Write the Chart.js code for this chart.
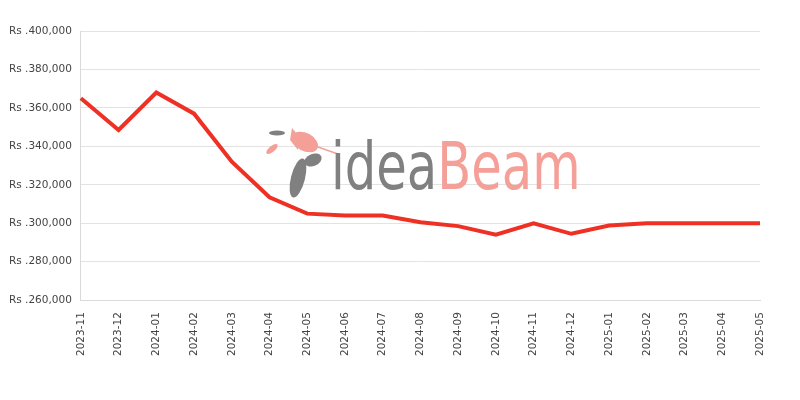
<!DOCTYPE html>
<html>
<head>
<meta charset="utf-8">
<script src="https://cdn.jsdelivr.net/npm/chart.js@4/dist/chart.umd.min.js"></script>
<style>
  html, body { margin: 0; padding: 0; background: #fff; }
  #wrap { width: 800px; height: 400px; position: relative; }
</style>
</head>
<body>
<div id="wrap"><canvas id="lineChart"></canvas></div>
<script>
const months = [
  "2023-11", "2023-12", "2024-01", "2024-02", "2024-03", "2024-04", "2024-05",
  "2024-06", "2024-07", "2024-08", "2024-09", "2024-10", "2024-11", "2024-12",
  "2025-01", "2025-02", "2025-03", "2025-04", "2025-05",
];
const prices = [
  365000, 348500, 368000, 357000, 332000, 313500, 305000,
  304000, 304000, 300500, 298500, 294000, 300000, 294500,
  298800, 300000, 300000, 300000, 300000,
];
const yMin = 260000;
const yMax = 400000;
const yStep = 20000;

// faint logo behind the line
const watermark = {
  id: "watermark",
  beforeDatasetsDraw(chart) {
    const ctx = chart.ctx;
    ctx.save();
    // bird + feather, rough
    ctx.fillStyle = "#f4a099";
    ctx.beginPath();
    ctx.ellipse(305, 142, 14, 9, 0.5, 0, Math.PI * 2);
    ctx.fill();
    ctx.beginPath();
    ctx.moveTo(292, 128);
    ctx.quadraticCurveTo(300, 135, 298, 150);
    ctx.lineTo(290, 140);
    ctx.fill();
    ctx.beginPath();
    ctx.moveTo(315, 146);
    ctx.lineTo(338, 154);
    ctx.lineWidth = 1.5;
    ctx.strokeStyle = "#f4a099";
    ctx.stroke();
    ctx.beginPath();
    ctx.ellipse(272, 149, 7, 3, -0.7, 0, Math.PI * 2);
    ctx.fill();
    ctx.fillStyle = "#808080";
    ctx.beginPath();
    ctx.ellipse(277, 133, 8, 2.5, 0, 0, Math.PI * 2);
    ctx.fill();
    ctx.beginPath();
    ctx.ellipse(298, 178, 7, 20, 0.25, 0, Math.PI * 2);
    ctx.fill();
    ctx.beginPath();
    ctx.ellipse(313, 160, 9, 6, -0.4, 0, Math.PI * 2);
    ctx.fill();
    // text
    ctx.font = "68px 'DejaVu Sans'";
    ctx.textBaseline = "alphabetic";
    ctx.translate(331, 189);
    ctx.scale(0.73, 0.97);
    ctx.fillStyle = "#808080";
    ctx.fillText("idea", 0, 0);
    const w = ctx.measureText("idea").width;
    ctx.fillStyle = "#f4a099";
    ctx.fillText("Beam", w, 0);
    ctx.restore();
  },
};

var ctx = document.getElementById("lineChart").getContext("2d");

var lineChart = new Chart(ctx, {
  type: "line",
  data: {
    labels: months,
    datasets: [
      {
        label: "Price",
        data: prices,
        borderColor: "#ee3124",
        backgroundColor: "#ee3124",
        borderWidth: 4,
        pointRadius: 0,
        tension: 0,
        fill: false,
      },
    ],
  },
  options: {
    responsive: true,
    maintainAspectRatio: false,
    animation: false,
    layout: {
      padding: { left: 0, right: 40, top: 31, bottom: 32 },
    },
    scales: {
      x: {
        grid: { display: true, drawOnChartArea: false, drawTicks: false, color: "#d9d9d9" },
        border: { color: "#d9d9d9" },
        ticks: {
          autoSkip: false,
          maxRotation: 90,
          minRotation: 90,
          padding: 12,
          color: "#444",
          font: { family: "'DejaVu Sans'", size: 10.5 },
        },
      },
      y: {
        min: yMin,
        max: yMax,
        grid: { color: "#e3e3e3", drawTicks: false },
        border: { color: "#d9d9d9" },
        ticks: {
          stepSize: yStep,
          padding: 9,
          color: "#444",
          font: { family: "'DejaVu Sans'", size: 10.5 },
          callback: (v) => "Rs ." + v.toLocaleString("en-US"),
        },
      },
    },
    plugins: {
      legend: { display: false },
      tooltip: { enabled: false },
    },
  },
  plugins: [watermark],
});
</script>
</body>
</html>
